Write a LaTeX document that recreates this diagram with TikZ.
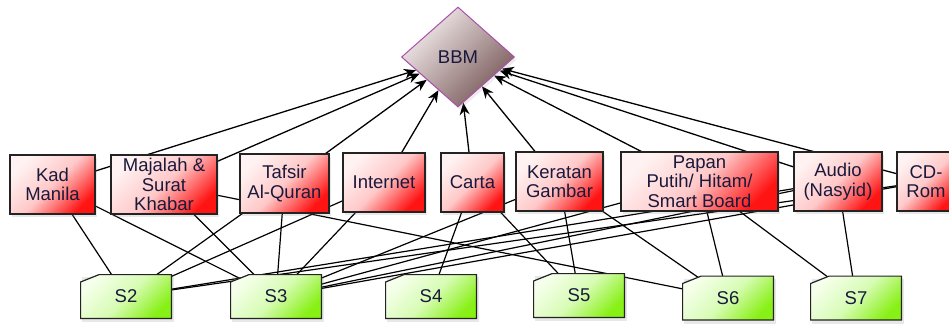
\documentclass[tikz,border=0pt]{standalone}
\usepackage{fontspec}
\setmainfont{Liberation Sans}
\usetikzlibrary{shapes.geometric, positioning, arrows.meta, shadows, backgrounds}

\definecolor{boxline}{RGB}{35,35,35}
\definecolor{boxtext}{RGB}{25,25,60}
\definecolor{redtop}{RGB}{255,242,242}
\definecolor{redmid}{RGB}{255,200,200}
\definecolor{redbottom}{RGB}{255,20,20}
\definecolor{greentop}{RGB}{245,255,235}
\definecolor{greenmid}{RGB}{215,252,180}
\definecolor{greenbottom}{RGB}{135,240,20}
\definecolor{hubtop}{RGB}{245,238,238}
\definecolor{hubbottom}{RGB}{120,88,88}
\definecolor{hubline}{RGB}{170,80,170}

\tikzset{
  medium/.style={draw=boxline, line width=1.3pt, top color=redtop, bottom color=redbottom,
    middle color=redmid, shading angle=45, minimum height=59pt, inner sep=1pt, outer sep=0pt,
    align=center, text=boxtext, font=\fontsize{18.5pt}{19.5pt}\selectfont,
    drop shadow={shadow xshift=2pt, shadow yshift=-3pt, opacity=0.18}},
  student/.style={minimum width=92pt, minimum height=45pt, inner sep=0pt, outer sep=0pt,
    text=boxtext, font=\fontsize{18.5pt}{19.5pt}\selectfont,
    drop shadow={shadow xshift=2pt, shadow yshift=-3pt, opacity=0.18},
    path picture={\shadedraw[draw=boxline, line width=1.2pt, top color=greentop,
      bottom color=greenbottom, middle color=greenmid, shading angle=45]
      ([shift={(0.6pt,-8pt)}]path picture bounding box.north west)
      -- ([shift={(19pt,-0.6pt)}]path picture bounding box.north west)
      -- ([shift={(-0.6pt,-0.6pt)}]path picture bounding box.north east)
      -- ([shift={(-0.6pt,0.6pt)}]path picture bounding box.south east)
      -- ([shift={(0.6pt,0.6pt)}]path picture bounding box.south west) -- cycle;}},
  hub/.style={diamond, draw=hubline, line width=1pt, top color=hubtop, bottom color=hubbottom,
    shading angle=45, minimum width=113pt, minimum height=100pt, inner sep=0pt,
    text=boxtext, font=\fontsize{18.5pt}{19.5pt}\selectfont,
    drop shadow={shadow xshift=2pt, shadow yshift=-3pt, opacity=0.15}},
  link/.style={line width=1.2pt, black},
  tohub/.style={line width=1.3pt, black, -{Stealth[length=12pt, width=10pt]}},
}

\begin{document}
\begin{tikzpicture}[x=1pt, y=-1pt]
  \useasboundingbox (0,0) rectangle (949,324);

  % goal
  \node[hub] (bbm) at (458,57) {BBM};

  % media row
  \node[medium, minimum width=85pt] (kad) at (52.5,184.5) {Kad\\Manila};
  \node[medium, minimum width=106pt, right=16pt of kad] (majalah) {Majalah \&\\Surat\\Khabar};
  \node[medium, minimum width=89pt, right=23pt of majalah, yshift=1pt] (tafsir) {Tafsir\\Al-Quran};
  \node[medium, minimum width=82pt, right=14pt of tafsir, yshift=1pt] (internet) {Internet};
  \node[medium, minimum width=63pt, right=16pt of internet] (carta) {Carta};
  \node[medium, minimum width=87pt, right=12pt of carta, yshift=1pt] (keratan) {Keratan\\Gambar};
  \node[medium, minimum width=157pt, right=18pt of keratan] (papan) {Papan\\Putih/ Hitam/\\Smart Board};
  \node[medium, minimum width=88pt, right=16pt of papan] (audio) {Audio\\(Nasyid)};
  \node[medium, minimum width=58pt, right=15pt of audio] (cdrom) {CD-\\Rom};

  % students row
  \node[student] (s2) at (126,296.5) {S2};
  \node[student, right=58pt of s2] (s3) {S3};
  \node[student, right=63pt of s3] (s4) {S4};
  \node[student, right=56pt of s4, yshift=1pt] (s5) {S5};
  \node[student, right=57pt of s5, yshift=-2.5pt] (s6) {S6};
  \node[student, right=36pt of s6] (s7) {S7};

  \begin{scope}[on background layer]
    \foreach \m/\s in {kad/s2, kad/s3, majalah/s3, majalah/s6, tafsir/s2, tafsir/s3,
        internet/s2, internet/s3, carta/s4, carta/s5, keratan/s3, keratan/s5, keratan/s6,
        papan/s3, papan/s6, papan/s7, audio/s2, audio/s3, audio/s7, cdrom/s2, cdrom/s3}
      \draw[link] (\m.center) -- (\s.center);
    \foreach \m in {kad, majalah, tafsir, internet, carta, keratan, papan, audio, cdrom}
      \draw[tohub] (\m.center) -- (bbm);
  \end{scope}
\end{tikzpicture}
\end{document}
